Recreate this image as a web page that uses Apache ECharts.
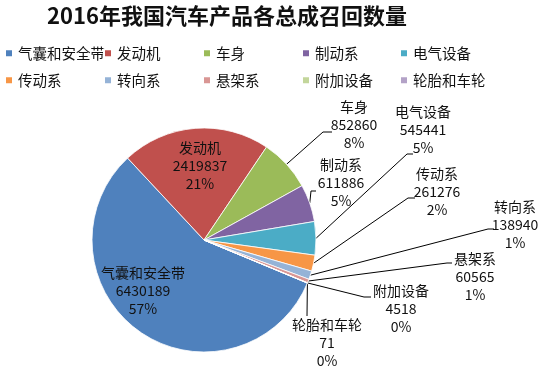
<!DOCTYPE html>
<html>
<head>
<meta charset="utf-8">
<script src="https://cdn.jsdelivr.net/npm/echarts@6/dist/echarts.min.js"></script>
<style>
html,body{margin:0;padding:0;background:#fff;}
#chart{width:554px;height:389px;}
</style>
</head>
<body>
<div id="chart"></div>
<script>
// ---- data ----
var categories = ['气囊和安全带','发动机','车身','制动系','电气设备','传动系','转向系','悬架系','附加设备','轮胎和车轮'];
var values = [6430189, 2419837, 852860, 611886, 545441, 261276, 138940, 60565, 4518, 71];
var titleText = '2016年我国汽车产品各总成召回数量';

// ---- styles / layout ----
var colors = ['#4F81BD','#C0504D','#9BBB59','#8064A2','#4BACC6','#F79646','#95B3D7','#D99694','#C3D69B','#B3A2C7'];
var FONT = '"Noto Sans CJK SC", "Noto Sans", sans-serif';
// label block centres
var labelPos = [[143,291],[200,166],[354,125],[341,183],[423,130],[437,192],[515,225],[475,277],[401,309],[327,343]];
// leader line elbow and end (null = inside label)
var lineEnds = [null, null,
  [[323,132],[332,132]],
  [[311,191],[316,191]],
  [[407,154],[413,154]],
  [[408,198],[415,198]],
  [[488,229],[494,229]],
  [[447,263],[452,263]],
  [[364,297],[371,297]],
  [[307,316],[307,316]]
];
// legend grid
var legendCols = [4, 103, 202, 301, 399];
var legendRows = [46, 73];

var chart = echarts.init(document.getElementById('chart'), null, {renderer:'canvas'});

var seriesData = categories.map(function (name, i) {
  var inside = (lineEnds[i] === null);
  return {
    name: name,
    value: values[i],
    itemStyle: {color: colors[i]},
    label: {position: inside ? 'inside' : 'outside'},
    labelLine: {show: !inside}
  };
});

var legends = categories.map(function (name, i) {
  return {
    data: [name],
    left: legendCols[i % 5],
    top: legendRows[Math.floor(i / 5)],
    padding: 0,
    itemWidth: 8,
    itemHeight: 8,
    icon: 'rect',
    selectedMode: false,
    textStyle: {fontFamily: FONT, fontSize: 14.5, color: '#111'}
  };
});

var option = {
  backgroundColor: '#fff',
  animation: false,
  title: {
    text: titleText,
    left: 47,
    top: 5,
    padding: 0,
    textStyle: {fontFamily: FONT, fontSize: 22, fontWeight: 'bold', color: '#111'}
  },
  legend: legends,
  series: [{
    type: 'pie',
    center: [204, 240],
    radius: [0, 112],
    startAngle: -22.6,
    clockwise: true,
    avoidLabelOverlap: false,
    percentPrecision: 0,
    data: seriesData,
    itemStyle: {borderColor: '#fff', borderWidth: 0.8},
    label: {
      show: true,
      formatter: '{b}\n{c}\n{d}%',
      fontFamily: FONT,
      fontSize: 14,
      lineHeight: 18,
      color: '#111',
      align: 'center'
    },
    labelLine: {
      show: true,
      smooth: false,
      length: 10,
      length2: 10,
      lineStyle: {color: '#000', width: 1}
    },
    emphasis: {disabled: true},
    labelLayout: function (params) {
      var i = params.dataIndex;
      var p = labelPos[i];
      var res = {x: p[0], y: p[1], align: 'center', verticalAlign: 'middle'};
      var le = lineEnds[i];
      if (le && params.labelLinePoints) {
        var p0 = params.labelLinePoints[0];
        res.labelLinePoints = [p0, le[0], le[1]];
      }
      return res;
    }
  }]
};
chart.setOption(option);
</script>
</body>
</html>
